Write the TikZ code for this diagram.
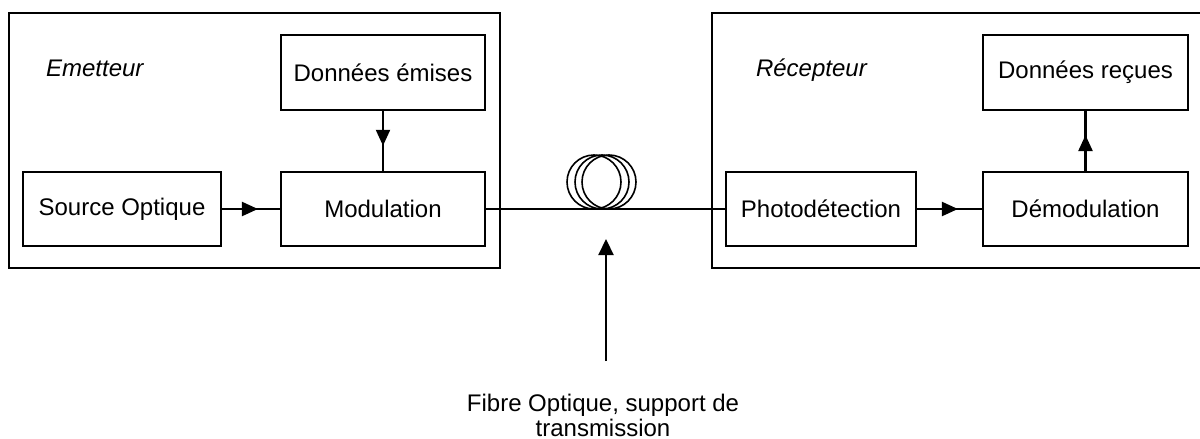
\documentclass[tikz,border=0pt]{standalone}
\usepackage{fontspec}
\setmainfont{Liberation Sans}
\usetikzlibrary{arrows.meta,decorations.markings}

\begin{document}
\begin{tikzpicture}[
    x=0.5pt,
    y=-0.5pt,
    every node/.style={font=\fontsize{12}{12.5}\selectfont},
    bloc/.style={
        draw,
        line width=1.1pt,
        inner sep=0pt
    },
    framebox/.style={
        draw,
        line width=1.1pt
    },
    midarrow/.style={
        line width=1.1pt,
        postaction={decorate},
        decoration={markings,
            mark=at position #1 with {\arrow{Triangle[length=8pt,width=7pt]}}}
    },
    coilline/.style={
        draw,
        line width=0.8pt
    }
]
\useasboundingbox (0,0) rectangle (1200,439);

% Emetteur
\draw[framebox] (9,13) rectangle (500,268);
\node[anchor=base west,font=\fontsize{12}{12.5}\selectfont\itshape] (emet) at (39,76) {Emetteur};

\node[bloc,minimum width=102pt,minimum height=37.5pt] (donem) at (383,72.5) {Donn\'ees \'emises};
\node[bloc,minimum width=102pt,minimum height=37pt] (modul) at (383,209) {Modulation};
\node[bloc,minimum width=99pt,minimum height=37pt] (srcopt) at (122,209) {Source Optique};

\draw[midarrow=0.62] (srcopt) -- (modul);
\draw[midarrow=0.58] (donem) -- (modul);

% Recepteur
\draw[framebox] (1200,13) -- (712,13) -- (712,268) -- (1200,268);
\node[anchor=base west,font=\fontsize{12}{12.5}\selectfont\itshape] (recep) at (749,76) {R\'ecepteur};

\node[bloc,minimum width=95pt,minimum height=37pt] (photodet) at (821,209) {Photod\'etection};
\node[bloc,minimum width=102.5pt,minimum height=37pt] (demod) at (1085.5,209) {D\'emodulation};
\node[bloc,minimum width=102.5pt,minimum height=37.5pt] (donrec) at (1085.5,72.5) {Donn\'ees re\c{c}ues};

\draw[midarrow=0.63] (photodet) -- (demod);
\draw[midarrow=0.6] (demod) -- (donrec);

% Fibre
\draw[line width=1.1pt] (modul.east) -- (photodet.west);
\draw[coilline] (594,182) circle[radius=13.5pt];
\draw[coilline] (602,182) circle[radius=13.5pt];
\draw[coilline] (609,182) circle[radius=13.5pt];

\node[align=center] (fibrelbl) at (603,415) {Fibre Optique, support de\\transmission};
\coordinate (fibretip) at (606,239);
\draw[line width=1.1pt,-{Triangle[length=8pt,width=7.5pt]}] (606,361) -- (fibretip);

\end{tikzpicture}
\end{document}
